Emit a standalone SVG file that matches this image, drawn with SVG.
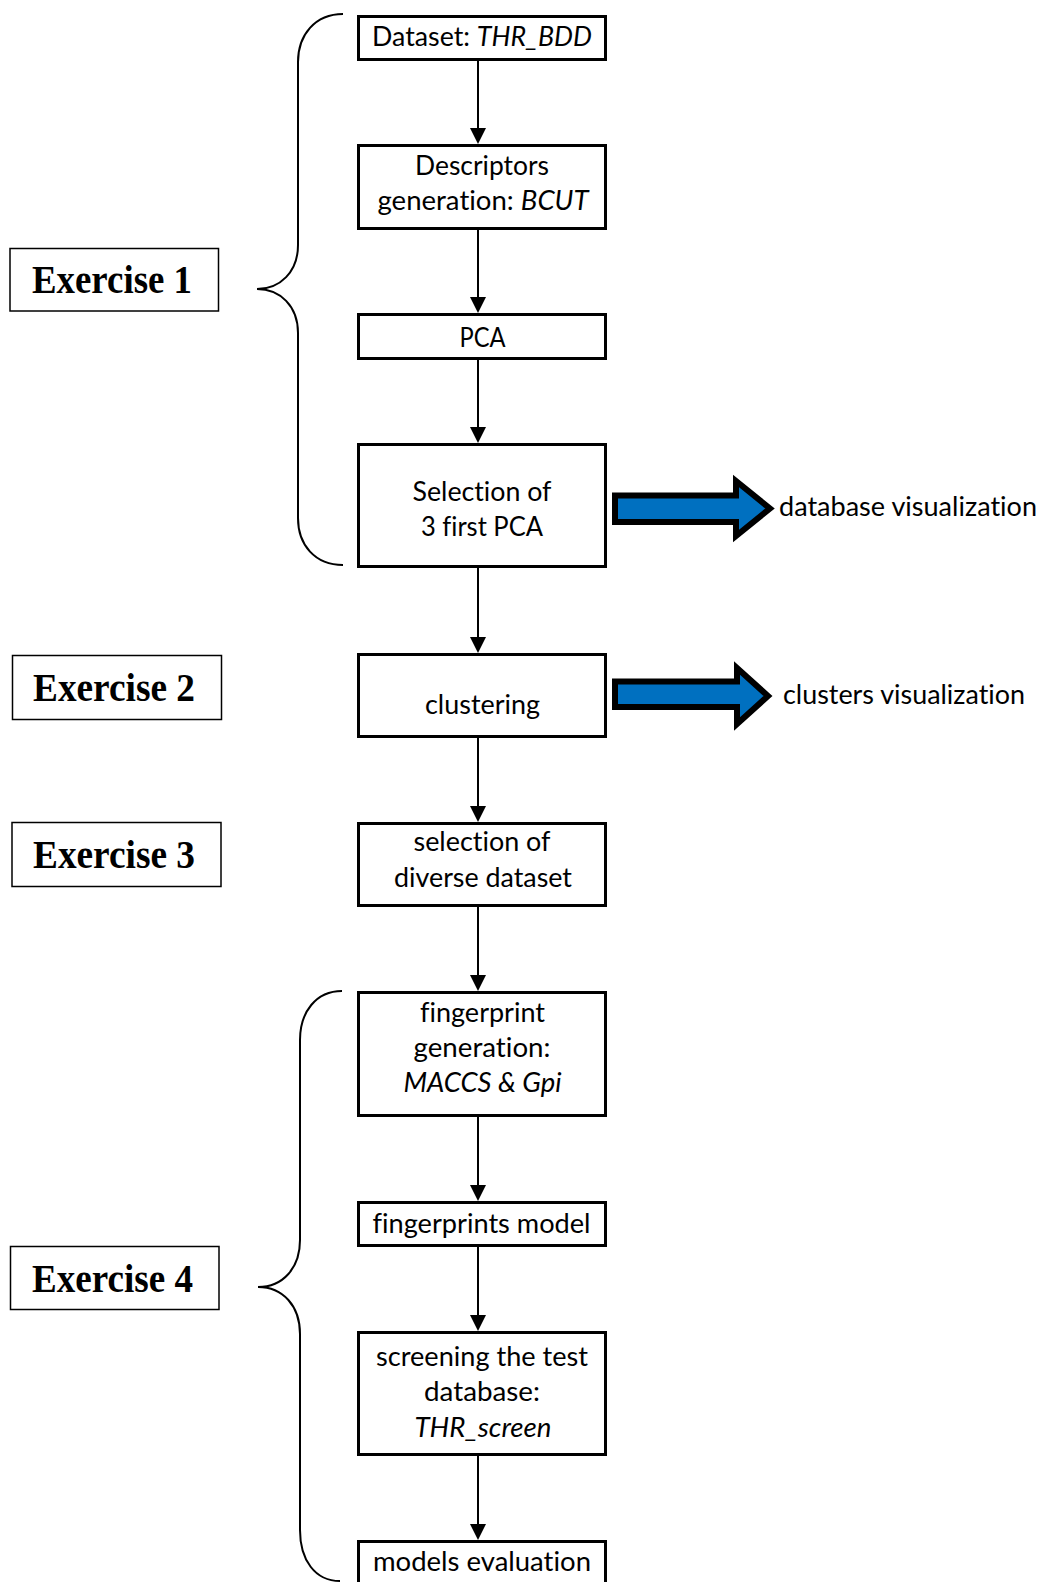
<svg xmlns="http://www.w3.org/2000/svg" width="1046" height="1582" viewBox="0 0 1046 1582">
<style>
.box{fill:#fff;stroke:#000;stroke-width:3}
.ex{fill:#fff;stroke:#000;stroke-width:1.5}
.t{font-family:Lato,"Open Sans",sans-serif;font-size:27px;fill:#000;text-anchor:middle;font-variant-ligatures:none}
.tl{font-family:Lato,"Open Sans",sans-serif;font-size:27px;fill:#000;font-variant-ligatures:none}
.et{font-family:"Liberation Serif","Times New Roman",serif;font-weight:bold;font-size:41px;fill:#000}
.i{font-style:italic}
.con{stroke:#000;stroke-width:2;fill:none}
.brace{stroke:#000;stroke-width:2;fill:none}
.big{fill:#0070C0;stroke:#000;stroke-width:6;stroke-linejoin:miter}
</style>
<defs>
<marker id="ah" markerUnits="userSpaceOnUse" markerWidth="16" markerHeight="16" viewBox="0 0 16 16" refX="6" refY="8" orient="auto">
<path d="M0,0 L16,8 L0,16 z" fill="#000"/>
</marker>
</defs>
<rect width="1046" height="1582" fill="#fff"/>

<g id="braces">
<path class="brace" d="M343,14 C315,14 298,35 298,62 L298,245 C298,272 280,289 257,289 C280,289 298,306 298,333 L298,518 C298,545 315,565 343,565"/>
<path class="brace" d="M342,991 C316,991 300,1012 300,1040 L300,1240 C300,1268 283,1287 258,1287 C283,1287 300,1306 300,1334 L300,1530 C300,1560 315,1581 340,1581"/>
</g>

<g id="connectors">
<line class="con" x1="478" y1="61" x2="478" y2="134" marker-end="url(#ah)"/>
<line class="con" x1="478" y1="230" x2="478" y2="303" marker-end="url(#ah)"/>
<line class="con" x1="478" y1="360" x2="478" y2="433" marker-end="url(#ah)"/>
<line class="con" x1="478" y1="568" x2="478" y2="643" marker-end="url(#ah)"/>
<line class="con" x1="478" y1="738" x2="478" y2="812" marker-end="url(#ah)"/>
<line class="con" x1="478" y1="907" x2="478" y2="981" marker-end="url(#ah)"/>
<line class="con" x1="478" y1="1117" x2="478" y2="1191" marker-end="url(#ah)"/>
<line class="con" x1="478" y1="1247" x2="478" y2="1321" marker-end="url(#ah)"/>
<line class="con" x1="478" y1="1456" x2="478" y2="1530" marker-end="url(#ah)"/>
<polygon class="big" points="615,495.5 736,495.5 736,481 770,508.5 736,536 736,522 615,522"/>
<polygon class="big" points="615,681.5 737,681.5 737,668 768,696 737,724 737,707 615,707"/>
</g>

<g id="ex1"><rect class="ex" x="10" y="248.5" width="208.5" height="62.5"/><text class="et" x="32" y="293" textLength="160" lengthAdjust="spacingAndGlyphs">Exercise 1</text></g>
<g id="ex2"><rect class="ex" x="12.5" y="655.5" width="209" height="64"/><text class="et" x="33" y="701" textLength="162" lengthAdjust="spacingAndGlyphs">Exercise 2</text></g>
<g id="ex3"><rect class="ex" x="12" y="822.5" width="209" height="64"/><text class="et" x="33" y="868" textLength="162" lengthAdjust="spacingAndGlyphs">Exercise 3</text></g>
<g id="ex4"><rect class="ex" x="10.5" y="1246.5" width="208.5" height="63"/><text class="et" x="32" y="1292" textLength="161" lengthAdjust="spacingAndGlyphs">Exercise 4</text></g>

<g id="n-dataset"><rect class="box" x="358.5" y="16.5" width="247" height="43"/><text class="t" x="482" y="46" textLength="220" lengthAdjust="spacingAndGlyphs">Dataset: <tspan class="i">THR_BDD</tspan></text></g>
<g id="n-descriptors"><rect class="box" x="358.5" y="145.5" width="247" height="83"/><text class="t" x="482" y="175" textLength="134" lengthAdjust="spacingAndGlyphs">Descriptors</text><text class="t" x="483" y="210" textLength="211" lengthAdjust="spacingAndGlyphs">generation: <tspan class="i">BCUT</tspan></text></g>
<g id="n-pca"><rect class="box" x="358.5" y="314.5" width="247" height="44"/><text class="t" x="482.5" y="347" textLength="46" lengthAdjust="spacingAndGlyphs">PCA</text></g>
<g id="n-selection"><rect class="box" x="358.5" y="444.5" width="247" height="122"/><text class="t" x="482" y="501" textLength="139" lengthAdjust="spacingAndGlyphs">Selection of</text><text class="t" x="482" y="536" textLength="122" lengthAdjust="spacingAndGlyphs">3 first PCA</text></g>
<g id="n-clustering"><rect class="box" x="358.5" y="654.5" width="247" height="82"/><text class="t" x="482.5" y="714" textLength="115" lengthAdjust="spacingAndGlyphs">clustering</text></g>
<g id="n-diverse"><rect class="box" x="358.5" y="823.5" width="247" height="82"/><text class="t" x="482" y="851" textLength="137" lengthAdjust="spacingAndGlyphs">selection of</text><text class="t" x="483" y="887" textLength="178" lengthAdjust="spacingAndGlyphs">diverse dataset</text></g>
<g id="n-fingerprint"><rect class="box" x="358.5" y="992.5" width="247" height="123"/><text class="t" x="482.5" y="1022" textLength="125" lengthAdjust="spacingAndGlyphs">fingerprint</text><text class="t" x="482" y="1057" textLength="137" lengthAdjust="spacingAndGlyphs">generation:</text><text class="t i" x="482.5" y="1092" textLength="158" lengthAdjust="spacingAndGlyphs">MACCS &amp; Gpi</text></g>
<g id="n-fpmodel"><rect class="box" x="358.5" y="1202.5" width="247" height="43"/><text class="t" x="481.5" y="1233" textLength="218" lengthAdjust="spacingAndGlyphs">fingerprints model</text></g>
<g id="n-screening"><rect class="box" x="358.5" y="1332.5" width="247" height="122"/><text class="t" x="482" y="1366" textLength="212" lengthAdjust="spacingAndGlyphs">screening the test</text><text class="t" x="482" y="1401" textLength="116" lengthAdjust="spacingAndGlyphs">database:</text><text class="t i" x="483" y="1437" textLength="137" lengthAdjust="spacingAndGlyphs">THR_screen</text></g>
<g id="n-evaluation"><rect class="box" x="358.5" y="1541.5" width="247" height="46"/><text class="t" x="482" y="1571" textLength="218" lengthAdjust="spacingAndGlyphs">models evaluation</text></g>

<g id="n-dbvis"><text class="tl" x="779" y="516" textLength="258" lengthAdjust="spacingAndGlyphs">database visualization</text></g>
<g id="n-clvis"><text class="tl" x="783" y="704" textLength="242" lengthAdjust="spacingAndGlyphs">clusters visualization</text></g>
</svg>
